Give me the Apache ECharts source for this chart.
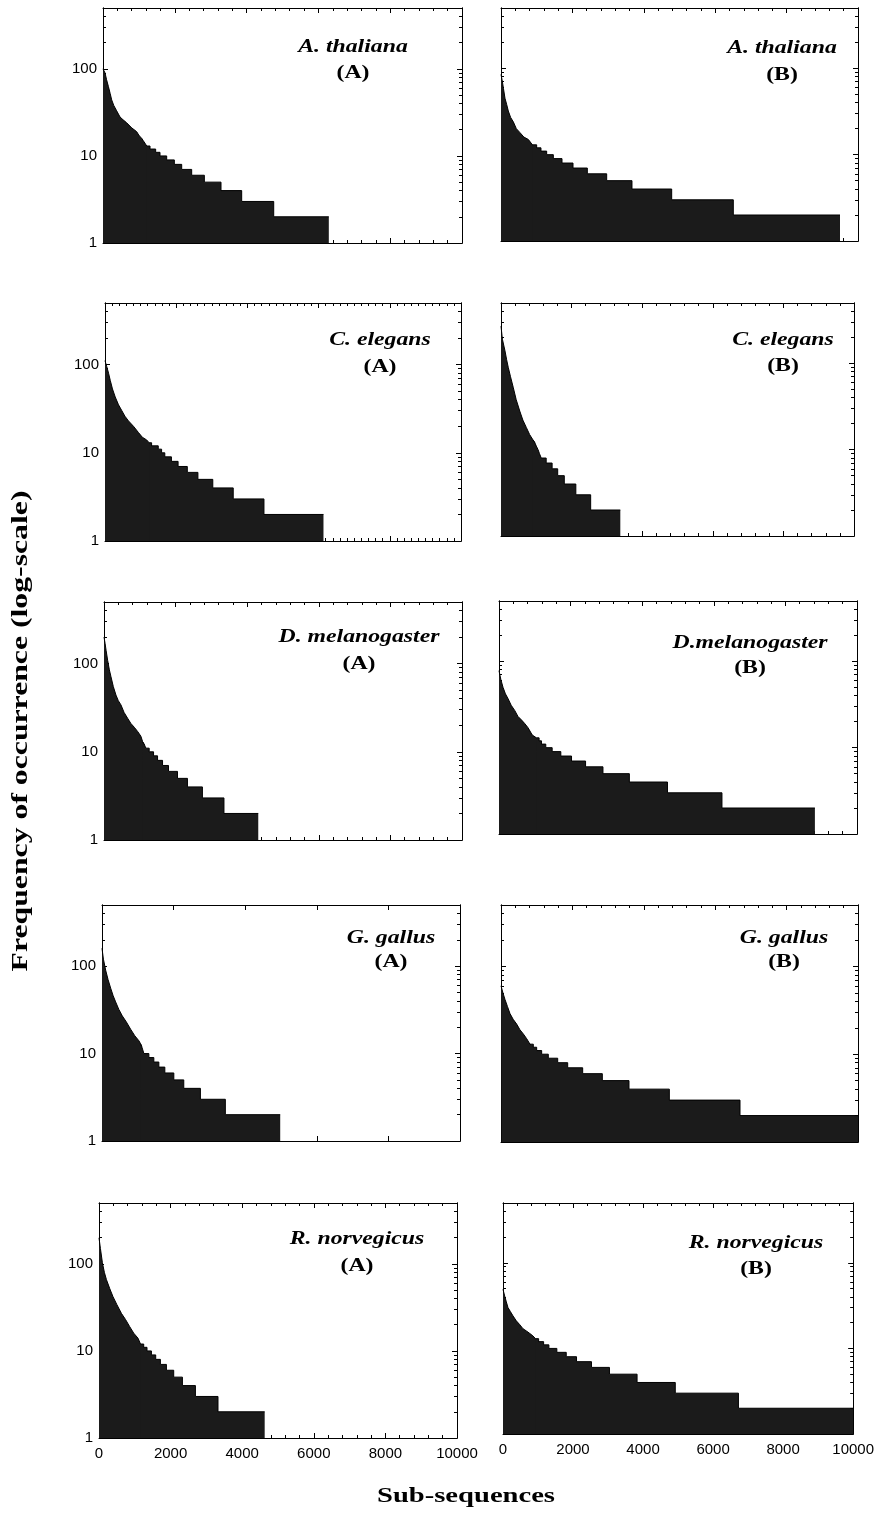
<!DOCTYPE html>
<html>
<head>
<meta charset="utf-8">
<script src="https://cdn.jsdelivr.net/npm/echarts@6/dist/echarts.min.js"></script>
<style>
  html, body { margin: 0; padding: 0; background: #fff; }
  #chart { width: 877px; height: 1513px; }
</style>
</head>
<body>
<div id="chart"></div>
<script>
// rank where each frequency level starts (last entry = end of the last level)
var athA_rank = [0, 20, 56, 100, 149, 200, 242, 300, 380, 474, 560, 660, 800, 938, 1010, 1078, 1120, 1170, 1217, 1310, 1467, 1588, 1774, 1987, 2192, 2470, 2823, 3287, 3863, 4755, 6290];
var athA_freq = [100, 96, 90, 75, 63, 52, 44, 38, 33, 28, 26, 24, 21, 19, 17, 16, 15, 14, 13, 12, 11, 10, 9, 8, 7, 6, 5, 4, 3, 2, 2];

var athB_rank = [0, 37, 70, 112, 160, 205, 270, 345, 430, 532, 640, 766, 880, 999, 1120, 1279, 1466, 1709, 2017, 2418, 2960, 3669, 4781, 6507, 9496];
var athB_freq = [85, 71, 58, 45, 38, 32, 27, 24, 20, 18, 16, 15, 13, 12, 11, 10, 9, 8, 7, 6, 5, 4, 3, 2, 2];

var celA_rank = [0, 50, 100, 149, 210, 287, 380, 474, 560, 660, 800, 939, 1050, 1170, 1240, 1309, 1496, 1590, 1680, 1866, 2053, 2312, 2610, 3028, 3602, 4465, 6137];
var celA_freq = [111, 95, 80, 66, 53, 43, 35, 30, 26, 23, 20, 17, 15, 14, 13, 12, 11, 10, 9, 8, 7, 6, 5, 4, 3, 2, 2];

var celB_rank = [0, 40, 112, 160, 205, 270, 345, 430, 532, 620, 720, 810, 905, 960, 1000, 1050, 1090, 1140, 1280, 1448, 1606, 1793, 2120, 2540, 3380];
var celB_freq = [270, 190, 140, 110, 90, 70, 53, 38, 28, 22, 18, 15, 13, 12, 11, 10, 9, 8, 7, 6, 5, 4, 3, 2, 2];

var dmeA_rank = [0, 30, 60, 102, 150, 195, 260, 334, 400, 474, 560, 660, 750, 845, 940, 1031, 1080, 1130, 1170, 1262, 1384, 1496, 1635, 1802, 2053, 2331, 2749, 3351, 4309];
var dmeA_freq = [200, 170, 140, 109, 85, 71, 55, 44, 38, 34, 28, 24, 21, 19, 17, 15, 13, 12, 11, 10, 9, 8, 7, 6, 5, 4, 3, 2, 2];

var dmeB_rank = [0, 50, 112, 180, 252, 340, 439, 530, 625, 720, 812, 930, 1046, 1120, 1186, 1307, 1485, 1727, 2026, 2418, 2904, 3641, 4706, 6228, 8824];
var dmeB_freq = [78, 62, 50, 42, 37, 31, 27, 23, 21, 19, 17, 14, 13, 12, 11, 10, 9, 8, 7, 6, 5, 4, 3, 2, 2];

var ggaA_rank = [0, 40, 102, 170, 242, 310, 381, 470, 566, 680, 799, 915, 1031, 1075, 1110, 1140, 1170, 1309, 1448, 1588, 1755, 2006, 2284, 2749, 3445, 4978];
var ggaA_freq = [160, 120, 90, 70, 56, 46, 39, 32, 27, 23, 19, 16, 14, 13, 12, 11, 10, 9, 8, 7, 6, 5, 4, 3, 2, 2];

var ggaB_rank = [0, 19, 60, 112, 180, 252, 340, 439, 530, 625, 720, 812, 905, 999, 1139, 1325, 1588, 1868, 2288, 2838, 3585, 4715, 6695, 10000];
var ggaB_freq = [60, 57, 49, 42, 35, 29, 25, 22, 19, 17, 15, 13, 12, 11, 10, 9, 8, 7, 6, 5, 4, 3, 2, 2];

var rnoA_rank = [0, 40, 95, 150, 207, 300, 391, 500, 626, 740, 858, 970, 1090, 1160, 1249, 1341, 1464, 1584, 1715, 1883, 2087, 2330, 2693, 3324, 4628];
var rnoA_freq = [199, 150, 103, 80, 66, 52, 42, 34, 27, 23, 19, 16, 14, 12, 11, 10, 9, 8, 7, 6, 5, 4, 3, 2, 2];

var rnoB_rank = [0, 48, 95, 142, 210, 285, 380, 476, 570, 667, 760, 855, 930, 1017, 1160, 1311, 1538, 1806, 2100, 2527, 3040, 3829, 4920, 6724, 10000];
var rnoB_freq = [49, 41, 35, 30, 27, 24, 21, 19, 17, 16, 15, 14, 13, 12, 11, 10, 9, 8, 7, 6, 5, 4, 3, 2, 2];

var speciesNames = ['A. thaliana', 'A. thaliana', 'C. elegans', 'C. elegans', 'D. melanogaster', 'D.melanogaster', 'G. gallus', 'G. gallus', 'R. norvegicus', 'R. norvegicus'];
var panelTags = ['(A)', '(B)', '(A)', '(B)', '(A)', '(B)', '(A)', '(B)', '(A)', '(B)'];
var allRanks = [athA_rank, athB_rank, celA_rank, celB_rank, dmeA_rank, dmeB_rank, ggaA_rank, ggaB_rank, rnoA_rank, rnoB_rank];
var allFreqs = [athA_freq, athB_freq, celA_freq, celB_freq, dmeA_freq, dmeB_freq, ggaA_freq, ggaB_freq, rnoA_freq, rnoB_freq];

var yLabelValues = [1, 10, 100];
var yMinorValues = [2, 3, 4, 5, 6, 7, 8, 9, 20, 30, 40, 50, 60, 70, 80, 90, 200, 300, 400];
var stepBelow = 13; // levels at or below this are drawn as flat steps

// layout: [left, top, width, height] of each plot box
var boxes = [
  [103, 8, 359, 235], [501, 8, 357, 233],
  [105, 303, 356, 238], [501, 303, 353, 233],
  [104, 602, 358, 238], [499, 601, 358, 233],
  [102, 905, 358, 236], [501, 905, 357, 237],
  [99, 1203, 358, 235], [503, 1203, 351, 231]
];
// [x centre, name y, tag y]
var labelPos = [
  [353, 47, 73], [782, 48, 75],
  [380, 340, 367], [783, 340, 366],
  [359, 637, 664], [750, 643, 668],
  [391, 938, 962], [784, 938, 962],
  [357, 1239, 1266], [756, 1243, 1269]
];
var xMinorSplit = [5, 5, 10, 5, 5, 5, 0, 5, 5, 5];

var chart = echarts.init(document.getElementById('chart'));

var grids = [], xAxes = [], yAxes = [], series = [], graphics = [];
var tickFont = { fontFamily: 'Liberation Sans', fontSize: 15, color: '#000' };
var lineCol = '#000';
var fillCol = '#1b1b1b';

function serifText(x, y, txt, font, rot, sx) {
  return {
    type: 'text', x: x, y: y, rotation: rot || 0, scaleX: sx || 1, silent: true,
    style: { text: txt, fill: '#000', align: 'center', verticalAlign: 'middle', font: font }
  };
}

for (var i = 0; i < 10; i++) {
  var b = boxes[i];
  var isLeft = i % 2 === 0;
  var isBottom = i >= 8;
  grids.push({ left: b[0], top: b[1], width: b[2], height: b[3], containLabel: false });

  ['bottom', 'top'].forEach(function (pos) {
    xAxes.push({
      type: 'value', gridIndex: i, position: pos, min: 0, max: 10000, interval: 2000,
      axisLine: { show: true, onZero: false, lineStyle: { color: lineCol, width: 1 } },
      axisTick: { show: true, inside: true, length: 5, lineStyle: { color: lineCol } },
      minorTick: { show: xMinorSplit[i] > 0, splitNumber: xMinorSplit[i] || 5, length: 3, lineStyle: { color: lineCol } },
      axisLabel: Object.assign({ show: pos === 'bottom' && isBottom, margin: 8, formatter: function (v) { return String(v); } }, tickFont),
      splitLine: { show: false }
    });
  });

  ['left', 'right'].forEach(function (pos) {
    yAxes.push({
      type: 'log', logBase: 10, gridIndex: i, position: pos, min: 1, max: 500,
      axisLine: { show: true, onZero: false, lineStyle: { color: lineCol, width: 1 } },
      axisTick: { show: true, inside: true, length: 5, customValues: yLabelValues, lineStyle: { color: lineCol } },
      axisLabel: Object.assign({ show: pos === 'left' && isLeft, margin: 6, customValues: yLabelValues }, tickFont),
      splitLine: { show: false }
    });
    yAxes.push({
      type: 'log', logBase: 10, gridIndex: i, position: pos, min: 1, max: 500,
      axisLine: { show: true, onZero: false, lineStyle: { color: lineCol, width: 1 } },
      axisTick: { show: true, inside: true, length: 3, customValues: yMinorValues, lineStyle: { color: lineCol } },
      axisLabel: { show: false },
      splitLine: { show: false }
    });
  });

  var pts = allRanks[i].map(function (r, k) { return [r, allFreqs[i][k]]; });
  var cut = pts.findIndex(function (p) { return p[1] <= stepBelow; });
  // smooth head of the distribution (runs one point into the steps so no seam shows)
  series.push({
    type: 'line', xAxisIndex: 2 * i, yAxisIndex: 4 * i,
    data: pts.slice(0, cut + 2), symbol: 'none', silent: true, animation: false, z: 2,
    lineStyle: { color: '#000', width: 1 },
    areaStyle: { color: fillCol, opacity: 1, origin: 'start' }
  });
  // flat levels in the tail
  series.push({
    type: 'line', xAxisIndex: 2 * i, yAxisIndex: 4 * i, step: 'end',
    data: pts.slice(cut), symbol: 'none', silent: true, animation: false, z: 3,
    lineStyle: { color: '#000', width: 1 },
    areaStyle: { color: fillCol, opacity: 1, origin: 'start' }
  });

  var lp = labelPos[i];
  graphics.push(serifText(lp[0], lp[1], speciesNames[i], 'italic bold 19px "Liberation Serif"', 0, 1.25));
  graphics.push(serifText(lp[0], lp[2], panelTags[i], 'bold 19px "Liberation Serif"', 0, 1.25));
}

graphics.push(serifText(21, 731, 'Frequency of occurrence (log-scale)', 'bold 23px "Liberation Serif"', Math.PI / 2, 1.38));
graphics.push(serifText(466, 1496, 'Sub-sequences', 'bold 22px "Liberation Serif"', 0, 1.3));

chart.setOption({
  backgroundColor: '#fff',
  animation: false,
  grid: grids,
  xAxis: xAxes,
  yAxis: yAxes,
  series: series,
  graphic: graphics
});
</script>
</body>
</html>
